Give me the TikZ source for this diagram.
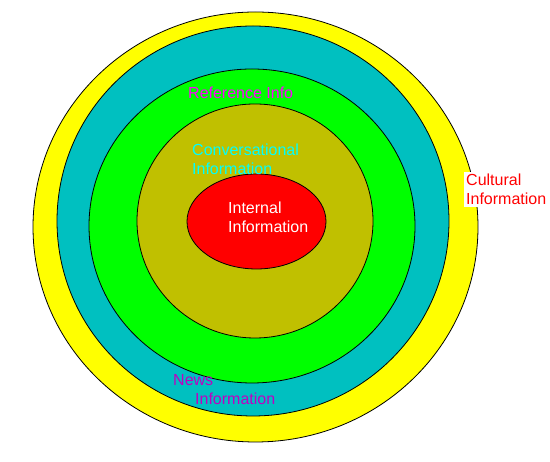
\documentclass[tikz,border=0pt]{standalone}
\usepackage{fontspec}
\setmainfont{Liberation Sans}
\definecolor{ringyellow}{RGB}{255,255,0}
\definecolor{ringcyan}{RGB}{0,192,192}
\definecolor{ringgreen}{RGB}{0,255,0}
\definecolor{ringolive}{RGB}{192,192,0}
\definecolor{ringred}{RGB}{255,0,0}
\definecolor{txtmagenta}{RGB}{255,0,255}
\definecolor{txtpurple}{RGB}{192,0,192}
\definecolor{txtcyan}{RGB}{0,255,255}
\begin{document}
\begin{tikzpicture}[x = 1pt, y = 1pt,
        ring/.style = {draw = black, line width = 0.8pt},
        lbl/.style = {anchor = base west, inner sep = 0pt, align = left,
            font = \fontsize{16}{19.5}\selectfont}]
            \useasboundingbox (0,0) rectangle (550,462);
            \draw[ring, fill = ringyellow] (255.5,235) ellipse (222.5 and 215);
            \draw[ring, fill = ringcyan] (253,241) ellipse (196 and 195);
            \draw[ring, fill = ringgreen] (252,236) ellipse (163 and 157);
            \draw[ring, fill = ringolive] (255,241) ellipse (118 and 117);
            \draw[ring, fill = ringred] (256.5,240.5) ellipse (69.5 and 47.5);
            \node[lbl, txtmagenta] (ref) at (188,363) {Reference Info};
            \node[lbl, txtcyan] (conv) at (192,287) {Conversational\\Information};
            \node[lbl, white] (int) at (228,229) {Internal\\Information};
            \node[lbl, txtpurple] (news) at (173,57) {News\\\hspace*{22pt}Information};
            \node[lbl, ringred, fill = white, inner sep = 2pt] (cult) at (464,257) {Cultural\\Information};
        \end{tikzpicture}
\end{document}
